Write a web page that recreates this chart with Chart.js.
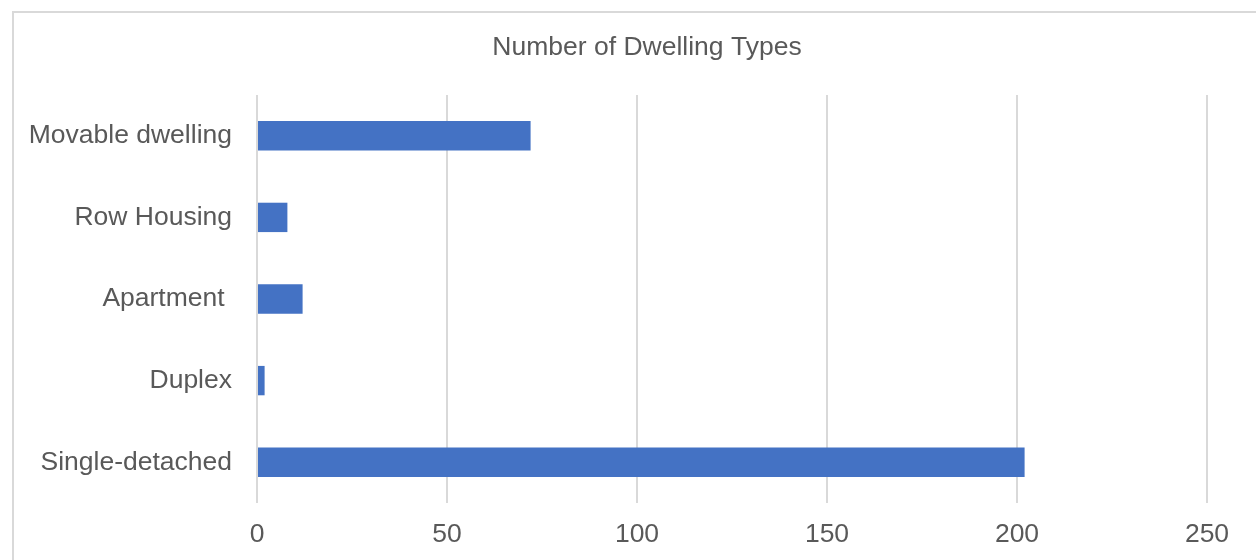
<!DOCTYPE html>
<html>
<head>
    <title>Number of Dwelling Types</title>
    <script src="https://cdn.jsdelivr.net/npm/chart.js"></script>
    <style>
        body { margin: 0; background: #fff; overflow: hidden; }
        #frame { position: absolute; left: 12px; top: 11px; width: 1300px; height: 600px; border: 2px solid #d9d9d9; box-sizing: border-box; }
        /* canvas runs past the window edge so the title centres on the whole frame */
        #wrap { position: absolute; left: 0; top: 0; width: 1294px; height: 560px; }
    </style>
</head>
<body>
    <div id="frame"></div>
    <div id="wrap">
        <canvas id="myChart" width="1294" height="560"></canvas>
    </div>
    <script>
        const categories = ['Movable dwelling', 'Row Housing', 'Apartment ', 'Duplex', 'Single-detached'];
        const dwellings = [72, 8, 12, 2, 202];
        const xTicks = [0, 50, 100, 150, 200, 250];

        const txt = '#595959';
        const fam = 'Liberation Sans, Arial, sans-serif';
        const ctx = document.getElementById('myChart').getContext('2d');

        new Chart(ctx, {
            type: 'bar',
            data: {
                labels: categories,
                datasets: [{
                    label: 'Number of Dwelling Types',
                    data: dwellings,
                    backgroundColor: '#4472c4',
                    barPercentage: 0.36,
                    categoryPercentage: 1
                }]
            },
            options: {
                indexAxis: 'y',
                responsive: false,
                animation: false,
                layout: { padding: 0 },
                plugins: {
                    legend: { display: false },
                    tooltip: { enabled: false },
                    title: {
                        display: true,
                        text: 'Number of Dwelling Types',
                        color: txt,
                        font: { family: fam, size: 26.5, weight: 'normal' },
                        padding: { top: 31.5, bottom: 31.7 }
                    }
                },
                scales: {
                    x: {
                        min: xTicks[0],
                        max: xTicks[xTicks.length - 1],
                        afterBuildTicks: axis => { axis.ticks = xTicks.map(v => ({ value: v })); },
                        afterFit: axis => { axis.height = 57; },
                        border: { display: false },
                        grid: { color: '#d9d9d9', lineWidth: 2, drawTicks: false },
                        ticks: {
                            color: txt,
                            padding: 16,
                            font: { family: fam, size: 26.5 }
                        }
                    },
                    y: {
                        afterFit: axis => { axis.width = 257; },
                        border: { display: false },
                        grid: { display: false, drawTicks: false },
                        ticks: {
                            color: txt,
                            padding: 25,
                            font: { family: fam, size: 26.5 }
                        }
                    },
                    // empty spacer on the right
                    yPad: {
                        type: 'linear',
                        position: 'right',
                        afterFit: axis => { axis.width = 87; },
                        border: { display: false },
                        grid: { display: false, drawTicks: false },
                        ticks: { display: false }
                    }
                }
            }
        });
    </script>
</body>
</html>
